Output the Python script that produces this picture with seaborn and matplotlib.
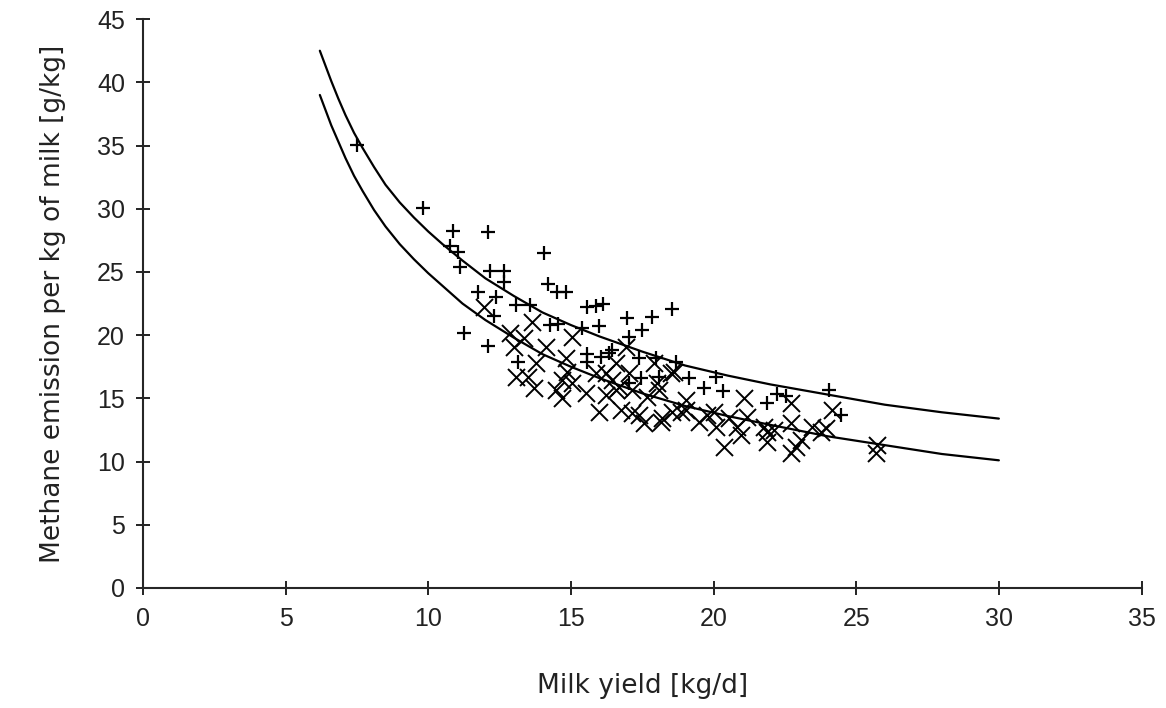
import numpy as np
import pandas as pd
import seaborn as sns
from matplotlib import pyplot as plt

plus_x = [7.49, 9.80, 10.85, 12.08, 10.75, 11.06, 14.04, 11.13, 12.18, 12.67, 12.67, 14.21,
          14.53, 14.84, 11.73, 12.39, 13.09, 13.55, 15.58, 15.89, 16.14, 18.55, 16.98, 17.85,
          17.50, 12.29, 11.27, 12.11, 14.25, 14.56, 15.40, 16.00, 17.05, 16.45, 15.58, 15.58,
          16.07, 13.13, 17.40, 17.99, 18.69, 19.15, 17.47, 17.05, 16.35, 19.67, 20.09, 20.34,
          21.88, 22.23, 22.54, 24.05, 24.47, 18.10]
plus_y = [35.02, 30.04, 28.21, 28.13, 27.02, 26.55, 26.47, 25.36, 25.04, 25.04, 24.17, 24.01,
          23.38, 23.45, 23.45, 22.98, 22.42, 22.42, 22.19, 22.27, 22.50, 22.03, 21.32, 21.47,
          20.44, 21.55, 20.21, 19.18, 20.84, 20.92, 20.60, 20.76, 19.89, 18.86, 18.54, 17.91,
          18.30, 17.91, 18.23, 18.23, 17.91, 16.64, 16.64, 16.24, 18.62, 15.85, 16.72, 15.61,
          14.66, 15.37, 15.21, 15.69, 13.71, 16.72]

cross_x = [11.97, 12.85, 13.37, 13.02, 13.65, 14.14, 13.79, 13.09, 13.48, 13.72, 14.84, 15.05,
           14.70, 14.49, 14.70, 15.54, 16.00, 16.24, 16.59, 17.05, 16.70, 17.15, 16.77, 17.15,
           17.57, 17.68, 18.10, 18.20, 18.55, 19.04, 19.04, 18.62, 18.03, 18.87, 18.17, 19.50,
           20.02, 20.09, 20.55, 20.37, 20.83, 21.07, 21.18, 21.77, 21.88, 22.12, 22.72, 22.72,
           22.72, 22.89, 23.07, 23.45, 23.94, 24.15, 25.73, 25.69, 16.94, 17.92, 18.52, 15.89,
           16.45, 16.59, 17.40, 19.78, 20.97, 16.24, 14.88, 15.05, 21.88, 23.77]
cross_y = [22.19, 20.21, 19.81, 19.10, 21.08, 19.10, 17.83, 16.72, 16.72, 15.85, 18.23, 19.89,
           16.48, 15.69, 15.06, 15.45, 13.95, 17.04, 17.83, 17.04, 15.93, 15.69, 14.10, 13.87,
           13.07, 15.13, 15.69, 13.47, 13.95, 14.90, 14.10, 17.12, 16.24, 13.95, 13.15, 13.15,
           13.95, 12.76, 13.47, 11.17, 12.76, 15.06, 13.55, 12.76, 11.57, 12.52, 14.66, 13.07,
           10.70, 11.17, 11.73, 12.76, 12.68, 14.10, 11.33, 10.70, 19.10, 17.83, 17.04, 17.04,
           16.48, 15.69, 13.71, 13.71, 12.12, 15.29, 17.12, 16.24, 12.36, 12.36]

curve_x = [6.2, 6.4, 6.6, 6.85, 7.1, 7.4, 7.7, 8.1, 8.5, 9.0, 9.5, 10.0, 10.5, 11.2,
           12, 13, 14, 15, 16, 17.5, 19, 20.5, 22, 24, 26, 28, 30]
upper_y = [42.5, 41.3, 40.1, 38.7, 37.4, 36.0, 34.8, 33.3, 31.9, 30.5, 29.3, 28.2, 27.2, 25.9,
           24.5, 23.1, 21.8, 20.8, 19.9, 18.7, 17.6, 16.8, 16.1, 15.3, 14.5, 13.9, 13.4]
lower_y = [39.0, 37.8, 36.6, 35.3, 34.0, 32.6, 31.4, 29.9, 28.6, 27.2, 26.0, 24.9, 23.9, 22.5,
           21.2, 19.8, 18.5, 17.5, 16.6, 15.4, 14.4, 13.6, 12.9, 12.0, 11.3, 10.6, 10.1]

curves = pd.DataFrame({'x': curve_x * 2,
                       'y': upper_y + lower_y,
                       'curve': ['upper'] * len(curve_x) + ['lower'] * len(curve_x)})

sns.set_style('ticks')
plt.rcParams['font.family'] = ['Liberation Sans', 'DejaVu Sans']

fig = plt.figure(figsize=(11.66, 7.08), dpi=100)
ax = fig.add_axes([0.1226, 0.1695, 0.8564, 0.8035])

sns.lineplot(data=curves, x='x', y='y', units='curve', estimator=None,
             color='black', linewidth=1.6, ax=ax)
sns.scatterplot(x=plus_x, y=plus_y, marker='+', color='black', s=100, linewidth=1.6, ax=ax)
sns.scatterplot(x=cross_x, y=cross_y, marker='x', color='black', s=150, linewidth=1.4, ax=ax)

ax.set_xlim(0, 35)
ax.set_ylim(0, 45)
ax.set_xticks(range(0, 36, 5))
ax.set_yticks(range(0, 46, 5))
sns.despine(ax=ax)
ax.spines['left'].set_linewidth(1.5)
ax.spines['bottom'].set_linewidth(1.5)
ax.tick_params(direction='inout', length=10, width=1.4, labelsize=18, colors='#222222')
ax.tick_params(axis='x', pad=9)
ax.tick_params(axis='y', pad=8)
ax.set_xlabel('Milk yield [kg/d]', fontsize=19, labelpad=30, color='#222222',
              family='DejaVu Sans')
ax.set_ylabel('Methane emission per kg of milk [g/kg]', fontsize=19, labelpad=22,
              color='#222222', family='DejaVu Sans')

plt.savefig('out.png', dpi=100)
